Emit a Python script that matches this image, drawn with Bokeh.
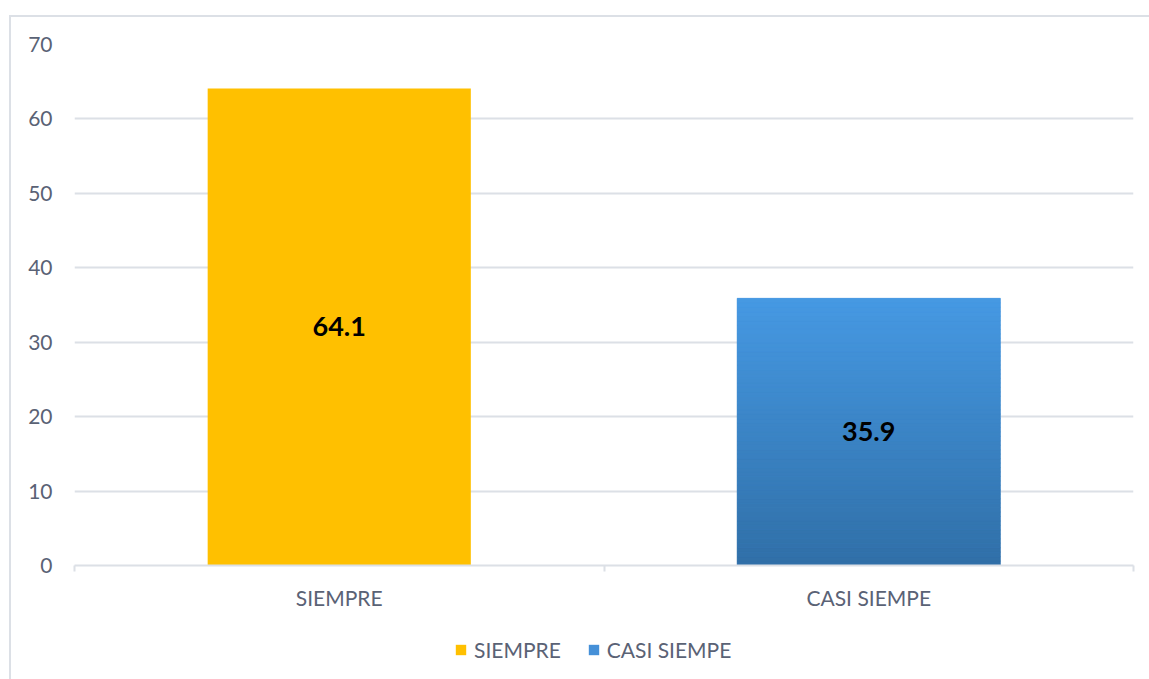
import numpy as np
from bokeh.plotting import figure
from bokeh.layouts import column
from bokeh.models import Range1d, FixedTicker, Legend, LegendItem, ColumnDataSource
from bokeh.core.properties import value
from bokeh.embed import file_html
from bokeh.resources import INLINE

categories = ["SIEMPRE", "CASI SIEMPE"]
values = [64.1, 35.9]
labels = ["64.1", "35.9"]
y_ticks = [0, 10, 20, 30, 40, 50, 60, 70]

GOLD = "#FFC000"
BLUE_MID = "#4590D8"
BLUE_TOP = (70, 153, 227)
BLUE_BOT = (48, 111, 167)
TEXT = "#5A6275"
GRID = "#DCE0E6"
FONT = "Lato"
bar_colors = [GOLD, BLUE_MID]

xs = [i + 0.5 for i in range(len(categories))]
bar_w = 0.497

p = figure(width=1138, height=595, output_backend="svg", toolbar_location=None,
           x_range=Range1d(0, len(categories)), y_range=Range1d(0, 70),
           min_border_left=63, min_border_right=16, min_border_top=27, min_border_bottom=38,
           outline_line_color=None, background_fill_color="white", border_fill_color="white")

src = ColumnDataSource(dict(x=xs, top=values, cat=categories, lab=labels,
                            mid=[v / 2 for v in values]))

for i, cat in enumerate(categories):
    p.vbar(x=[xs[i]], top=[values[i]], width=bar_w, fill_color=bar_colors[i], line_color=None)

# vertical gradient for the blue bar, built from its value
n = 60
v = values[1]
bots = [v * k / n for k in range(n)]
tops = [v * (k + 1) / n for k in range(n)]
cols = []
for k in range(n):
    t = (k + 0.5) / n
    c = tuple(int(round(BLUE_BOT[j] + (BLUE_TOP[j] - BLUE_BOT[j]) * t)) for j in range(3))
    cols.append("#%02x%02x%02x" % c)
p.quad(left=xs[1] - bar_w / 2, right=xs[1] + bar_w / 2, bottom=bots, top=tops,
       fill_color=cols, line_color=cols, line_width=0.6)

# data labels
p.text(x="x", y="mid", text="lab", source=src, text_align="center", text_baseline="middle",
       text_font=value(FONT), text_font_style="bold", text_font_size="27px", text_color="black")

# axes
p.yaxis.ticker = FixedTicker(ticks=y_ticks)
p.yaxis.axis_line_color = None
p.yaxis.major_tick_line_color = None
p.yaxis.major_tick_out = 0
p.yaxis.minor_tick_line_color = None
p.yaxis.major_label_standoff = 22
p.yaxis.major_label_text_font = FONT
p.yaxis.major_label_text_font_size = "21px"
p.yaxis.major_label_text_color = TEXT

p.xaxis.ticker = FixedTicker(ticks=xs, minor_ticks=list(range(len(categories) + 1)))
p.xaxis.major_label_overrides = {x: c for x, c in zip(xs, categories)}
p.xaxis.axis_line_color = GRID
p.xaxis.axis_line_width = 2
p.xaxis.major_tick_line_color = None
p.xaxis.minor_tick_line_color = GRID
p.xaxis.minor_tick_line_width = 2
p.xaxis.minor_tick_out = 6
p.xaxis.minor_tick_in = 0
p.xaxis.major_label_standoff = 13
p.xaxis.major_label_text_font = FONT
p.xaxis.major_label_text_font_size = "21px"
p.xaxis.major_label_text_color = TEXT

p.xgrid.grid_line_color = None
p.ygrid.ticker = FixedTicker(ticks=y_ticks)
p.ygrid.grid_line_color = GRID
p.ygrid.grid_line_width = 2

# legend strip (same series, drawn outside its visible range so only the legend shows)
leg = figure(width=1138, height=67, output_backend="svg", toolbar_location=None,
             x_range=Range1d(100, 101), y_range=Range1d(500, 501),
             x_axis_location=None, y_axis_location=None,
             min_border=0, outline_line_color=None, border_fill_color="white")
leg.grid.visible = False
lrends = [leg.vbar(x=[xs[i]], top=[values[i]], width=bar_w, fill_color=bar_colors[i],
                   line_color=None) for i in range(len(categories))]
legend = Legend(items=[LegendItem(label=c, renderers=[r]) for c, r in zip(categories, lrends)],
                orientation="horizontal", location=(380, 17),
                label_text_font=FONT, label_text_font_size="21px", label_text_color=TEXT,
                glyph_width=13, glyph_height=13, label_standoff=7, spacing=26,
                border_line_color=None, background_fill_alpha=0, margin=0, padding=0)
leg.add_layout(legend)

page = column(p, leg, spacing=0, margin=(15, 0, 0, 9),
              styles={"border-top": "2px solid #DCE0E6", "border-left": "2px solid #DCE0E6",
                      "background": "white"})

open("out.html", "w").write(file_html(page, INLINE))
